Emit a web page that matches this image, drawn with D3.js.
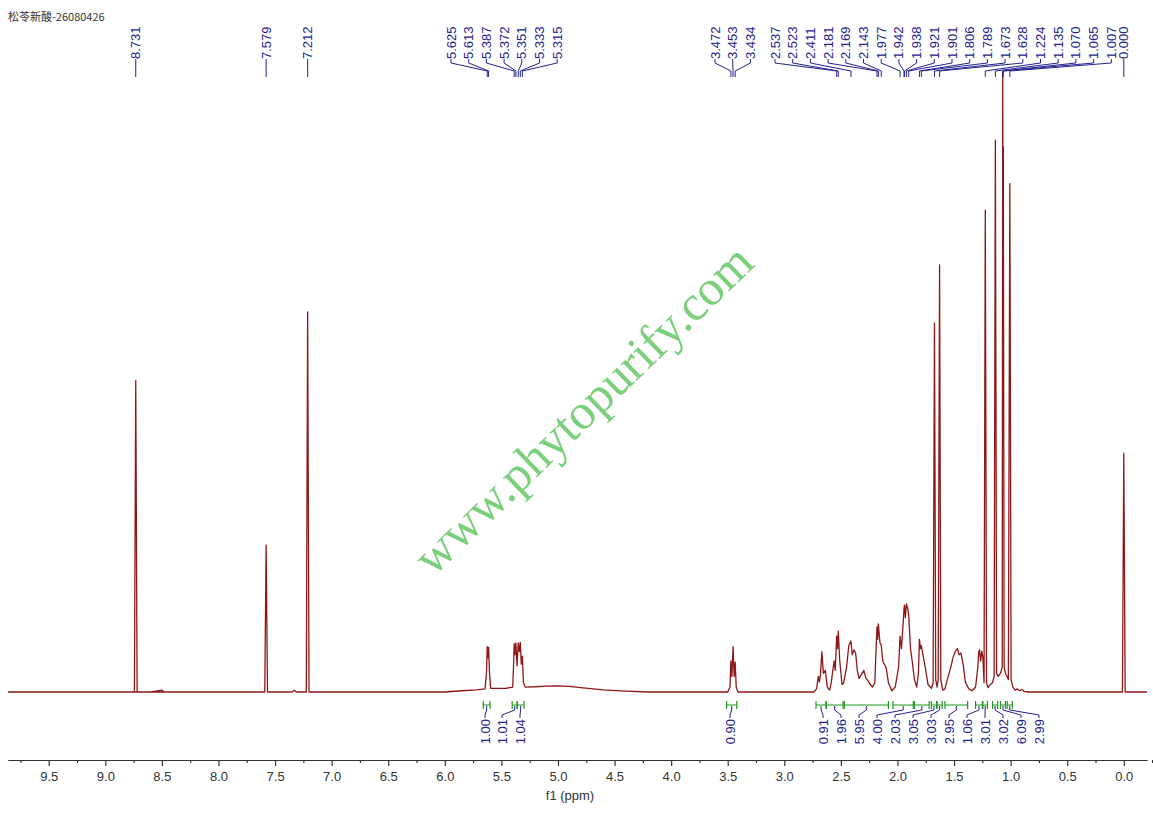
<!DOCTYPE html>
<html>
<head>
<meta charset="utf-8">
<script src="https://cdn.jsdelivr.net/npm/d3@7/dist/d3.min.js"></script>
<style>
  html, body { margin: 0; padding: 0; background: #fff; }
  svg { display: block; }
</style>
</head>
<body>
<svg id="chart" width="1153" height="813"></svg>
<script>
// ---------------- DATA ----------------
const title = "松苓新酸-26080426";
const axisLabel = "f1 (ppm)";
const majorTicks = [9.5, 9.0, 8.5, 8.0, 7.5, 7.0, 6.5, 6.0, 5.5, 5.0, 4.5, 4.0, 3.5, 3.0, 2.5, 2.0, 1.5, 1.0, 0.5, 0.0];
const minorTicks = [9.75, 9.25, 8.75, 8.25, 7.75, 7.25, 6.75, 6.25, 5.75, 5.25, 4.75, 4.25, 3.75, 3.25, 2.75, 2.25, 1.75, 1.25, 0.75, 0.25, -0.25];

// spectrum trace: [ppm, relative intensity]
const spectrum = [
  [9.86,0],[8.60,0],[8.50,0.3],[8.48,0],
  [8.743,0],[8.731,50.2],[8.719,0],
  [7.591,0],[7.579,23.7],[7.567,0],
  [7.35,0],[7.33,0.3],[7.31,0],
  [7.224,0],[7.212,61.3],[7.200,0],
  [6.0,0],[5.85,0.2],[5.72,0.35],[5.645,0.5],[5.632,3],[5.625,7.3],[5.619,5.5],[5.613,7.2],[5.605,3],[5.595,0.6],
  [5.46,0.6],[5.40,0.8],[5.393,4],[5.387,7.8],[5.380,6],[5.372,7.9],[5.362,4.2],[5.351,7.9],[5.342,6.5],[5.333,8.0],[5.324,4.5],[5.315,5.8],[5.305,1.5],[5.29,0.8],
  [5.2,0.85],[5.1,0.95],[5.0,1.0],[4.9,0.9],[4.8,0.7],[4.6,0.35],[4.4,0.15],[4.2,0],
  [3.50,0],[3.48,0.8],[3.472,5.0],[3.463,2.5],[3.453,7.3],[3.443,2.5],[3.434,4.8],[3.425,0.8],[3.41,0],
  [2.74,0],[2.715,0.5],[2.70,2.5],[2.69,1.6],[2.68,3],[2.668,6.5],[2.655,3],[2.638,3.5],[2.62,0.8],[2.60,0.3],
  [2.585,1.5],[2.575,3],[2.56,5],[2.55,3.5],[2.537,9.0],[2.530,7],[2.523,9.8],[2.51,5],[2.49,1.2],[2.475,1.5],
  [2.45,4],[2.43,7.5],[2.411,8.2],[2.40,6],[2.385,6.8],[2.37,6.3],[2.355,3.5],[2.34,2.2],[2.32,2.8],[2.297,3.5],
  [2.28,2.3],[2.26,1.8],[2.24,1.2],[2.22,0.8],[2.20,1.5],[2.19,6.5],[2.181,10.5],[2.175,8.5],[2.169,11],[2.155,8],
  [2.143,7.5],[2.13,5],[2.10,3.9],[2.08,1.5],[2.05,0.2],[2.02,0.8],[1.99,4],[1.977,9],[1.965,7],[1.95,11],
  [1.942,13.5],[1.938,14],[1.93,12],[1.921,14.2],[1.91,13.5],[1.901,12.5],[1.885,7],[1.87,5],[1.85,2],[1.83,0.8],
  [1.815,3],[1.806,8.5],[1.797,7],[1.789,7.5],[1.77,5.5],[1.755,4],[1.73,1.2],[1.70,0.6],
  [1.685,1.5],[1.673,59.5],[1.662,2],[1.65,0.8],[1.64,2],[1.628,68.9],[1.617,2],[1.60,0.3],
  [1.58,0.5],[1.56,2],[1.53,3.9],[1.51,5.5],[1.49,6.5],[1.47,7],[1.455,6],[1.44,6.3],[1.42,4.5],[1.40,1.6],
  [1.37,0.5],[1.34,0.2],[1.31,0.8],[1.29,4],[1.282,6.5],[1.275,6.8],[1.265,5],[1.255,6.6],[1.245,5.5],[1.235,1.5],
  [1.224,77.7],[1.213,1.5],[1.20,0.7],[1.18,1.2],[1.16,1.5],[1.146,2.5],[1.135,89],[1.124,3],[1.11,2.5],
  [1.09,3],[1.0745,4],[1.070,100],[1.0675,70],[1.065,88],[1.0575,4],[1.045,3],[1.02,2],[1.007,82],[0.996,2],
  [0.98,0.8],[0.96,0.3],[0.94,0.5],[0.92,0.2],[0.90,0.4],[0.88,0.1],[0.85,0],
  [0.012,0],[0.0,38.5],[-0.012,0],[-0.205,0]
];

// peak picking labels (groups)
const peakGroups = [
  ["8.731"],
  ["7.579"],
  ["7.212"],
  ["5.625","5.613","5.387","5.372","5.351","5.333","5.315"],
  ["3.472","3.453","3.434"],
  ["2.537","2.523","2.411","2.181","2.169","2.143","1.977","1.942","1.938","1.921","1.901","1.806","1.789","1.673","1.628","1.224","1.135","1.070","1.065","1.007"],
  ["0.000"]
];

// integrals: [from ppm, to ppm, value]
const integralFrom  = [5.66, 5.405, 5.36, 3.51, 2.72, 2.63, 2.47, 2.04, 1.85, 1.70, 1.65, 1.58, 1.31, 1.245, 1.16, 1.09, 1.03];
const integralTo    = [5.60, 5.36, 5.30, 3.42, 2.63, 2.48, 2.08, 1.86, 1.72, 1.655, 1.605, 1.38, 1.25, 1.205, 1.115, 1.045, 0.985];
const integralValue = ["1.00","1.01","1.04","0.90","0.91","1.96","5.95","4.00","2.03","3.05","3.03","2.95","1.06","3.01","3.02","6.09","2.99"];

// ---------------- DRAW ----------------
const svg = d3.select("#chart");
const x = d3.scaleLinear().domain([9.86, -0.205]).range([8, 1147]);
const y = d3.scaleLinear().domain([0, 100]).range([692, 72]);

const navy = "#22228f";
const green = "#1f9a1f";

// title
svg.append("text")
  .attr("x", 8).attr("y", 21)
  .attr("font-family", "'Noto Sans CJK SC', 'Noto Sans', sans-serif")
  .attr("font-size", 11)
  .attr("fill", "#333")
  .text(title);

// watermark
svg.append("text")
  .attr("transform", "translate(583,409) rotate(-44)")
  .attr("text-anchor", "middle")
  .attr("dominant-baseline", "central")
  .attr("font-family", "'Liberation Serif', 'DejaVu Serif', serif")
  .attr("font-size", 50)
  .attr("fill", "#5cc45c")
  .attr("opacity", 0.8)
  .text("www.phytopurify.com");

// spectrum
const line = d3.line().x(d => x(d[0])).y(d => y(d[1]));
svg.append("path")
  .datum(spectrum)
  .attr("fill", "none")
  .attr("stroke", "#8f1717")
  .attr("stroke-width", 1.3)
  .attr("stroke-linejoin", "round")
  .attr("d", line);

// peak labels
const labelFont = "'Liberation Sans', Arial, sans-serif";
const groupStartX = [null, null, null, 451, 715, 775, null];
const labelStep = 17.7;
peakGroups.forEach((g, gi) => {
  g.forEach((lab, i) => {
    const px = x(+lab);
    const lx = groupStartX[gi] === null ? px : groupStartX[gi] + i * labelStep;
    svg.append("text")
      .attr("transform", `translate(${lx},59) rotate(-90)`)
      .attr("dy", "0.35em")
      .attr("text-anchor", "start")
      .attr("font-family", labelFont)
      .attr("font-size", 13)
      .attr("fill", navy)
      .text(lab);
    svg.append("path")
      .attr("d", `M${lx},59 L${lx},63 L${px},71 L${px},77`)
      .attr("fill", "none")
      .attr("stroke", navy)
      .attr("stroke-width", 1);
  });
});

// integrals
const intLabelX = [485, 502, 520, 730];
integralValue.forEach((v, i) => {
  const x1 = x(integralFrom[i]), x2 = x(integralTo[i]);
  const mid = (x1 + x2) / 2;
  const lx = i < 4 ? intLabelX[i] : 823 + (i - 4) * 18;
  const by = 705;
  svg.append("path")
    .attr("d", `M${x1},${by - 4} L${x1},${by + 4} M${x1},${by} L${x2},${by} M${x2},${by - 4} L${x2},${by + 4}`)
    .attr("fill", "none").attr("stroke", green).attr("stroke-width", 1.2);
  svg.append("path")
    .attr("d", `M${mid},${by + 1} L${mid},${by + 5} L${lx},${by + 10} L${lx},${by + 13}`)
    .attr("fill", "none").attr("stroke", navy).attr("stroke-width", 1);
  svg.append("text")
    .attr("transform", `translate(${lx},${by + 14}) rotate(-90)`)
    .attr("dy", "0.35em")
    .attr("text-anchor", "end")
    .attr("font-family", labelFont)
    .attr("font-size", 13)
    .attr("fill", navy)
    .text(v);
});

// axis
const axisY = 760;
const gMinor = svg.append("g").attr("transform", `translate(0,${axisY})`)
  .call(d3.axisBottom(x).tickValues(minorTicks).tickSize(3).tickSizeOuter(0).tickFormat(""));
const gMajor = svg.append("g").attr("transform", `translate(0,${axisY})`)
  .call(d3.axisBottom(x).tickValues(majorTicks).tickSize(6).tickSizeOuter(0).tickPadding(6).tickFormat(d3.format(".1f")));
[gMinor, gMajor].forEach(g => {
  g.selectAll("path.domain").attr("stroke", "#333").attr("stroke-width", 1.2);
  g.selectAll(".tick line").attr("stroke", "#333").attr("stroke-width", 1.2);
});
gMajor.selectAll(".tick text")
  .attr("font-family", labelFont).attr("font-size", 13).attr("fill", "#333");

svg.append("text")
  .attr("x", 570).attr("y", 800)
  .attr("text-anchor", "middle")
  .attr("font-family", labelFont)
  .attr("font-size", 13)
  .attr("fill", "#333")
  .text(axisLabel);
</script>
</body>
</html>
